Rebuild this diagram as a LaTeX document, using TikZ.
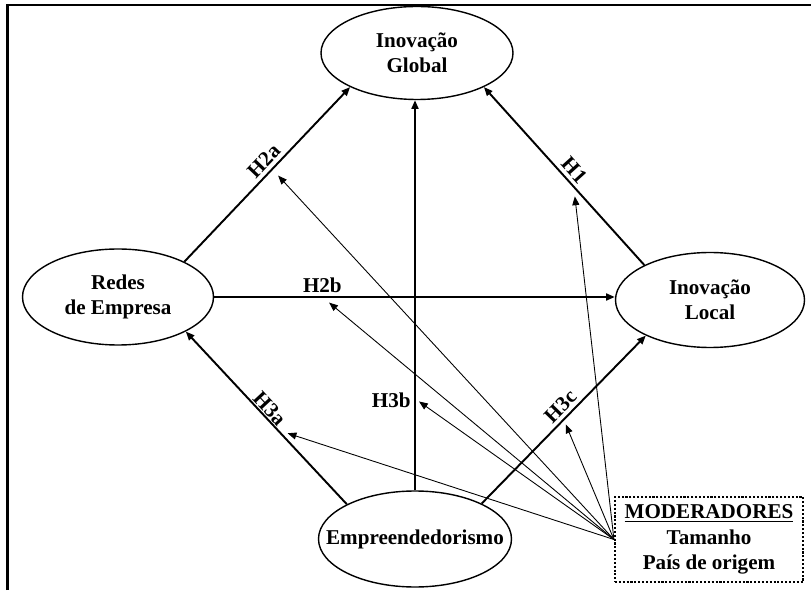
\documentclass[tikz,border=0pt]{standalone}
\usepackage{fontspec}
\setmainfont{Liberation Serif}
\usetikzlibrary{shapes,arrows.meta}

\tikzset{
  construto/.style={ellipse, draw, line width=0.8pt, inner sep=0pt},
  hipotese/.style={-{Triangle[length=5pt,width=4pt]}, line width=1.1pt},
  moderacao/.style={-{Triangle[length=5pt,width=4pt]}, line width=0.5pt},
  rotulo/.style={inner sep=2pt},
}

\begin{document}
\begin{tikzpicture}[font=\fontsize{12}{14.2}\selectfont\bfseries]
\useasboundingbox (0,0) rectangle (16.22,11.8);
\draw [line width=1.5pt] (0.15,0) |- (16.22,11.7);

\node [construto, minimum width=3.84cm, minimum height=1.86cm, label={[align=center]center:Inovação\\Global}] (glob) at (8.34,10.74) {};
\node [construto, minimum width=3.82cm, minimum height=1.92cm, label={[align=center]center:Redes\\de Empresa}] (redes) at (2.36,5.86) {};
\node [construto, minimum width=3.78cm, minimum height=1.9cm, label={[align=center]center:Inovação\\Local}] (local) at (14.2,5.8) {};
\node [construto, minimum width=3.86cm, minimum height=1.92cm, label={center:Empreendedorismo}] (empr) at (8.3,1.02) {};
\node [draw, line width=1.2pt, dash pattern=on 1.2pt off 1pt, minimum width=3.76cm, minimum height=1.7cm, align=center, font=\fontsize{12}{14.5}\selectfont\bfseries] (mod) at (14.18,1.01) {\underline{MODERADORES}\\Tamanho\\País de origem};

\draw [hipotese] (redes.28) -- coordinate[pos=0.53] (m2a) node [rotulo, sloped, above, pos=0.53] {H2a} (glob.207);
\draw [hipotese] (local.152) -- coordinate[pos=0.44] (m1) node [rotulo, sloped, above, pos=0.49] {H1} (glob.333);
\draw [hipotese] (redes.east) -- coordinate[pos=0.27] (m2b) node [rotulo, above, pos=0.27] {H2b} (redes.east -| local.west);
\draw [hipotese] (empr.north) -- coordinate[pos=0.235] (m3b) node [rotulo, left, pos=0.23] {H3b} (empr.north |- glob.south);
\draw [hipotese] (empr.153) -- coordinate[pos=0.43] (m3a) node [rotulo, sloped, above, pos=0.52, inner sep=0.5pt] {H3a} (redes.333);
\draw [hipotese] (empr.28) -- coordinate[pos=0.5] (m3c) node [rotulo, sloped, above, pos=0.53] {H3c} (local.209);

\foreach \m/\s in {m2a/5pt, m1/5.5pt, m2b/5pt, m3b/2.8pt, m3a/6pt, m3c/3pt}
  \draw [moderacao, shorten >=\s] (mod.west) -- (\m);
\end{tikzpicture}
\end{document}
